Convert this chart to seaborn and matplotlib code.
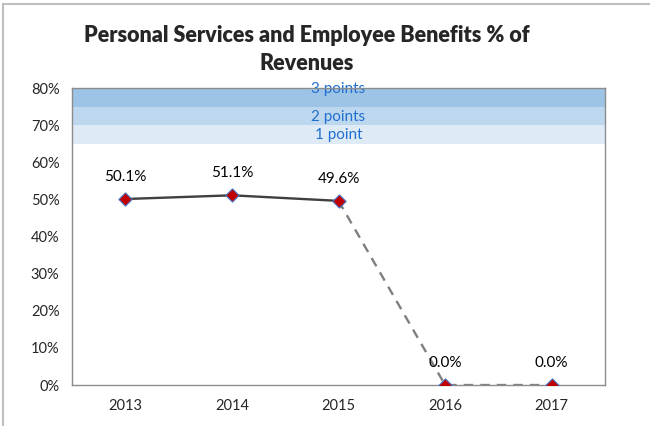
import numpy as np
import pandas as pd
import matplotlib
matplotlib.use("Agg")
import matplotlib.pyplot as plt
import seaborn as sns
from matplotlib.patches import Rectangle
from matplotlib.ticker import FixedLocator, PercentFormatter

# data
years = ["2013", "2014", "2015", "2016", "2017"]
pct = [50.1, 51.1, 49.6, 0.0, 0.0]
solid_years = ["2013", "2014", "2015"]
dashed_years = ["2015", "2016", "2017"]

band_names = ["1 point", "2 points", "3 points"]
band_low = [65, 70, 75]
band_high = [70, 75, 80]
band_colors = ["#DEEBF7", "#BDD7EE", "#9DC3E6"]

sns.set_style("white")
plt.rcParams["font.family"] = ["Lato", "DejaVu Sans"]

df = pd.DataFrame({"year": years, "pct": pct})
df["pos"] = np.arange(len(years))
solid = df[df["year"].isin(solid_years)]
dashed = df[df["year"].isin(dashed_years)]

fig = plt.figure(figsize=(6.5, 4.26), dpi=100)
ax = fig.add_axes([0.1108, 0.0962, 0.82, 0.6972])

# scoring bands at the top
for lo, hi, c, name in zip(band_low, band_high, band_colors, band_names):
    ax.axhspan(lo, hi, color=c, lw=0, zorder=0)
    ty = hi - 0.3 if hi == max(band_high) else (lo + hi) / 2 - 0.2
    ax.text(len(years) / 2 - 0.5, ty, name, ha="center", va="center",
            color="#1F6FD0", fontsize=11, zorder=1)

sns.lineplot(data=solid, x="pos", y="pct", color="#404040", lw=1.7, ax=ax, zorder=2)
sns.lineplot(data=dashed, x="pos", y="pct", color="#7F7F7F", lw=1.7, ax=ax, zorder=2)
ax.lines[-1].set_dashes([4, 3])
sns.scatterplot(data=df, x="pos", y="pct", marker="D", s=45, color="#C00000",
                edgecolor="#4472C4", linewidth=0.8, ax=ax, zorder=3)

for _, r in df.iterrows():
    ax.annotate(f"{r['pct']:.1f}%", (r["pos"], r["pct"]), xytext=(0, 16),
                textcoords="offset points", ha="center", va="center",
                fontsize=11, color="#000000")

ax.set_xlim(-0.5, len(years) - 0.5)
ax.set_ylim(0, 80)
ax.set_yticks(np.arange(0, 81, 10))
ax.yaxis.set_major_formatter(PercentFormatter(decimals=0))
ax.set_xticks(df["pos"])
ax.set_xticklabels(years)
ax.xaxis.set_minor_locator(FixedLocator(np.arange(-0.5, len(years), 1)))
ax.tick_params(axis="x", which="major", length=0, pad=10, labelsize=10.5)
ax.tick_params(axis="x", which="minor", length=5, width=1, color="#8c8c8c", direction="out")
ax.tick_params(axis="y", length=5, width=1, color="#8c8c8c", direction="out", pad=4, labelsize=10.5)
ax.set_xlabel("")
ax.set_ylabel("")
for s in ax.spines.values():
    s.set_visible(True)
    s.set_color("#8c8c8c")
    s.set_linewidth(1)

fig.text(0.472, 0.917, "Personal Services and Employee Benefits % of",
         ha="center", va="center", fontsize=15.5, fontweight="heavy")
fig.text(0.472, 0.850, "Revenues", ha="center", va="center", fontsize=15.5, fontweight="heavy")

# outer chart frame (only the top and left edges fall inside the image)
fig.patches.append(Rectangle((0.005, -0.05), 1.2, 1.04, transform=fig.transFigure,
                             fill=False, edgecolor="#BFBFBF", lw=1.5))

fig.savefig("out.png", dpi=100)
